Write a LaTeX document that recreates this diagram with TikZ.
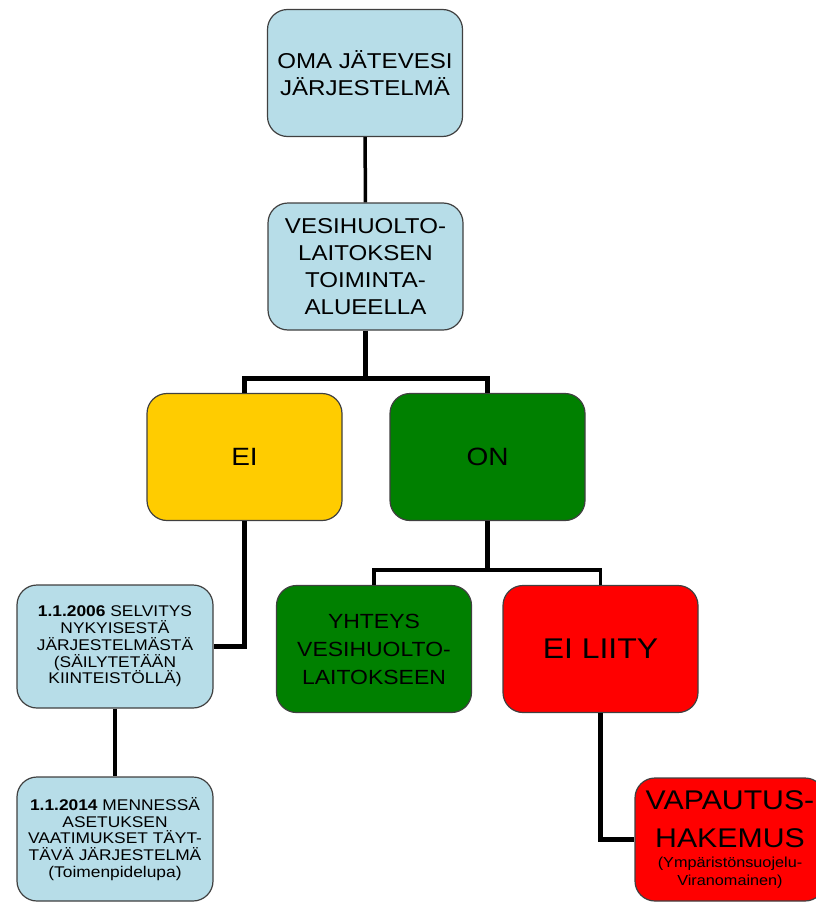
\documentclass[tikz,border=0pt]{standalone}
\usepackage{fontspec}
\setmainfont[FakeStretch=1.12]{Liberation Sans}
\definecolor{paleblue}{HTML}{B7DDE8}
\definecolor{okgreen}{HTML}{008000}
\definecolor{eiyellow}{HTML}{FFCC00}
\definecolor{nored}{HTML}{FF0000}
\begin{document}
\begin{tikzpicture}[x=1pt,y=-1pt,
  box/.style={draw=black!75,line width=1.2pt,rounded corners=20pt,minimum width=195pt,minimum height=127pt,align=center,inner sep=0pt},
  tree/.style={line width=5pt},
  link/.style={line width=3.5pt}]
\useasboundingbox (0,0) rectangle (815,902);
\node[box,fill=paleblue,font=\fontsize{21.5}{27}\selectfont] (oma) at (365,73) {OMA JÄTEVESI\\JÄRJESTELMÄ};
\node[box,fill=paleblue,font=\fontsize{21.5}{27}\selectfont] (vesi) at (365.5,266.5) {VESIHUOLTO-\\LAITOKSEN\\TOIMINTA-\\ALUEELLA};
\node[box,fill=eiyellow,font=\fontsize{25}{30}\selectfont] (ei) at (244.5,457) {EI};
\node[box,fill=okgreen,font=\fontsize{25}{30}\selectfont] (on) at (487.5,457) {ON};
\node[box,fill=paleblue,minimum width=196pt,minimum height=123pt,font=\fontsize{15.5}{16.8}\selectfont] (selv) at (115,646.5) {\textbf{1.1.2006} SELVITYS\\NYKYISESTÄ\\JÄRJESTELMÄSTÄ\\(SÄILYTETÄÄN\\KIINTEISTÖLLÄ)};
\node[box,fill=paleblue,minimum width=196pt,minimum height=124pt,font=\fontsize{15.5}{16.8}\selectfont] (menn) at (115,839) {\textbf{1.1.2014} MENNESSÄ\\ASETUKSEN\\VAATIMUKSET TÄYT-\\TÄVÄ JÄRJESTELMÄ\\(Toimenpidelupa)};
\node[box,fill=okgreen,font=\fontsize{20.5}{28}\selectfont] (yht) at (374,649) {YHTEYS\\VESIHUOLTO-\\LAITOKSEEN};
\node[box,fill=nored,font=\fontsize{28.5}{32}\selectfont] (liity) at (600.5,649) {EI LIITY};
\node[box,fill=nored,minimum width=190pt,minimum height=123pt,font=\fontsize{27}{38}\selectfont] (vap) at (730,839.5) {VAPAUTUS-\\HAKEMUS\\[-18pt]{\fontsize{14.5}{17}\selectfont(Ympäristönsuojelu-}\\[-20pt]{\fontsize{14.5}{17}\selectfont Viranomainen)}};
\coordinate (fork) at (365.5,378);
\coordinate (fork2) at (487.5,570);
\draw[link] (oma) -- (vesi);
\draw[tree] (vesi) -- (fork) -| (ei);
\draw[tree] (fork) -| (on);
\draw[tree] (ei) |- (selv);
\draw[link] (selv) -- (menn);
\draw[tree] (on) -- (fork2);
\draw[link] (yht) |- (fork2) -| (liity);
\draw[tree] (liity) |- (vap);
\end{tikzpicture}
\end{document}
